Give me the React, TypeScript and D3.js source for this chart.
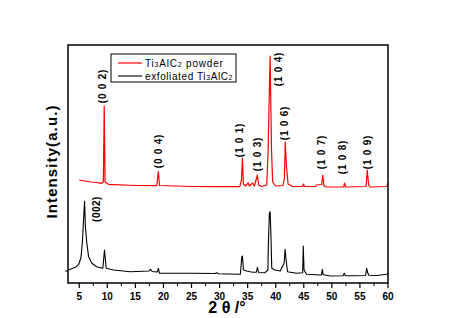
import React from "react";
import * as d3 from "d3";

// 2θ (degrees) and intensity (a.u.)
const powderTheta = [5, 7, 8, 9, 9.3, 9.45, 9.6, 10.2, 15, 18.8, 19.1, 19.3, 25, 30, 33.6, 33.9, 34.07, 34.25, 34.6, 35.1, 35.3, 35.9, 36.2, 36.74, 36.95, 37.5, 38.4, 38.65, 38.78, 38.9, 39.0, 39.12, 39.25, 39.45, 40, 41.3, 41.55, 41.7, 41.9, 42.2, 43, 44.8, 44.95, 45.15, 47.1, 47.25, 48.2, 48.37, 48.6, 49, 52.1, 52.25, 52.45, 56.1, 56.3, 56.55, 56.8, 59.8, 60];
const powderIntensity = [1030, 1010, 1005, 997, 1010, 1770, 1010, 987, 975, 973, 1115, 975, 965, 963, 963, 1030, 1250, 990, 970, 1000, 970, 1000, 970, 1080, 980, 965, 980, 1330, 1700, 2000, 2270, 1830, 1330, 1010, 970, 975, 1050, 1410, 1180, 990, 965, 965, 990, 965, 965, 980, 985, 1080, 970, 960, 960, 1000, 960, 965, 1130, 980, 960, 965, 1000];

const exfoTheta = [3.1, 4.3, 4.9, 5.3, 5.55, 5.77, 5.95, 6.1, 6.35, 6.67, 7.25, 8.1, 9.2, 9.5, 9.8, 11.1, 14.1, 17.4, 17.7, 18, 18.9, 19.1, 19.3, 25.3, 29.2, 29.5, 29.8, 31.3, 33.7, 33.96, 34.07, 34.25, 34.85, 35.4, 36.0, 36.55, 36.74, 36.95, 38.1, 38.6, 38.7, 38.87, 39.0, 39.1, 39.3, 39.9, 40.8, 41.5, 41.67, 41.85, 42.1, 43.7, 44.8, 44.9, 45.05, 45.5, 47.9, 48.15, 48.3, 48.45, 49.7, 52.0, 52.2, 52.4, 53.8, 56.0, 56.2, 56.4, 56.6, 58, 59.8, 60];
const exfoIntensity = [130, 157, 187, 250, 400, 630, 820, 563, 400, 263, 197, 163, 147, 330, 147, 130, 113, 120, 137, 115, 110, 147, 97, 97, 95, 103, 93, 90, 87, 263, 270, 130, 120, 113, 107, 108, 157, 105, 103, 130, 413, 697, 713, 563, 147, 130, 120, 197, 337, 230, 113, 97, 103, 370, 130, 87, 80, 82, 137, 82, 70, 72, 97, 72, 73, 75, 147, 100, 78, 75, 87, 103];

const xTicks = [5, 10, 15, 20, 25, 30, 35, 40, 45, 50, 55, 60];
const xMinorTicks = [7.5, 12.5, 17.5, 22.5, 27.5, 32.5, 37.5, 42.5, 47.5, 52.5, 57.5];

const peakLabels = ["(0 0 2)", "(0 0 4)", "(1 0 1)", "(1 0 3)", "(1 0 4)", "(1 0 6)", "(1 0 7)", "(1 0 8)", "(1 0 9)"];
const peakLabelTheta = [9.23, 19.2, 33.46, 36.67, 40.58, 41.65, 48.07, 51.98, 56.26];
const peakLabelIntensity = [1970, 1320, 1430, 1290, 2140, 1600, 1310, 1260, 1310];
const exfoLabel = "(002)";
const exfoLabelTheta = 7.99;
const exfoLabelIntensity = 740;

const W = 449, H = 318;
const left = 68, right = 388, top = 45, bottom = 283;

export default function App() {
  const x = d3.scaleLinear().domain([3, 60]).range([left, right]);
  const y = d3.scaleLinear().domain([0, 2380]).range([bottom, top]);
  const line = d3
    .line<[number, number]>()
    .x((d) => x(d[0]))
    .y((d) => y(d[1]));
  const powder = powderTheta.map((t, i) => [t, powderIntensity[i]] as [number, number]);
  const exfo = exfoTheta.map((t, i) => [t, exfoIntensity[i]] as [number, number]);
  const font = "'Liberation Sans', Arial, sans-serif";

  return (
    <div style={{ position: "fixed", left: 0, top: 0 }}>
      <svg width={W} height={H} style={{ display: "block", background: "#fff" }} fontFamily={font}>
        <rect x={0} y={0} width={W} height={H} fill="#fff" />
        {/* curves */}
        <path d={line(exfo) || ""} fill="none" stroke="#000" strokeWidth={1.1} strokeLinejoin="round" />
        <path d={line(powder) || ""} fill="none" stroke="#ff0000" strokeWidth={1.2} strokeLinejoin="round" />
        {/* frame */}
        <rect x={left} y={top} width={right - left} height={bottom - top} fill="none" stroke="#000" strokeWidth={1.5} />
        {/* x ticks */}
        {xTicks.map((t) => (
          <g key={"t" + t}>
            <line x1={x(t)} x2={x(t)} y1={bottom} y2={bottom + 5} stroke="#000" strokeWidth={1.2} />
            <text x={x(t)} y={299.5} textAnchor="middle" fontSize={10} fontWeight="bold">
              {t}
            </text>
          </g>
        ))}
        {xMinorTicks.map((t) => (
          <line key={"m" + t} x1={x(t)} x2={x(t)} y1={bottom} y2={bottom + 3} stroke="#000" strokeWidth={1} />
        ))}
        <line x1={left} x2={left - 3} y1={y(120)} y2={y(120)} stroke="#000" strokeWidth={1} />
        {/* axis titles */}
        <text x={227} y={313} textAnchor="middle" fontSize={16} fontWeight="bold">
          2 θ /°
        </text>
        <text
          transform={`translate(57,161.5) rotate(-90)`}
          textAnchor="middle"
          fontSize={15}
          fontWeight="bold"
          letterSpacing={1.1}
        >
          Intensity(a.u.)
        </text>
        {/* peak labels */}
        {peakLabels.map((lab, i) => (
          <text
            key={lab}
            transform={`translate(${x(peakLabelTheta[i])},${y(peakLabelIntensity[i])}) rotate(-90)`}
            textAnchor="middle"
            dominantBaseline="central"
            fontSize={10}
            fontWeight="bold"
            letterSpacing={0.8}
          >
            {lab}
          </text>
        ))}
        <text
          transform={`translate(${x(exfoLabelTheta)},${y(exfoLabelIntensity)}) rotate(-90)`}
          textAnchor="middle"
          dominantBaseline="central"
          fontSize={10}
          fontWeight="bold"
          letterSpacing={0.5}
        >
          {exfoLabel}
        </text>
        {/* legend */}
        <rect x={111} y={54} width={125} height={28} fill="#fff" stroke="#000" strokeWidth={1} />
        <line x1={118} x2={142} y1={63} y2={63} stroke="#ff0000" strokeWidth={1.2} />
        <line x1={118} x2={142} y1={76} y2={76} stroke="#000" strokeWidth={1.1} />
        <text x={145} y={66.5} fontSize={10} letterSpacing={0.8}>
          Ti<tspan fontSize={7}>3</tspan>AlC<tspan fontSize={7}>2</tspan> powder
        </text>
        <text x={145} y={79.5} fontSize={10} letterSpacing={0.6}>
          exfoliated Ti<tspan fontSize={7}>3</tspan>AlC<tspan fontSize={7}>2</tspan>
        </text>
      </svg>
    </div>
  );
}
